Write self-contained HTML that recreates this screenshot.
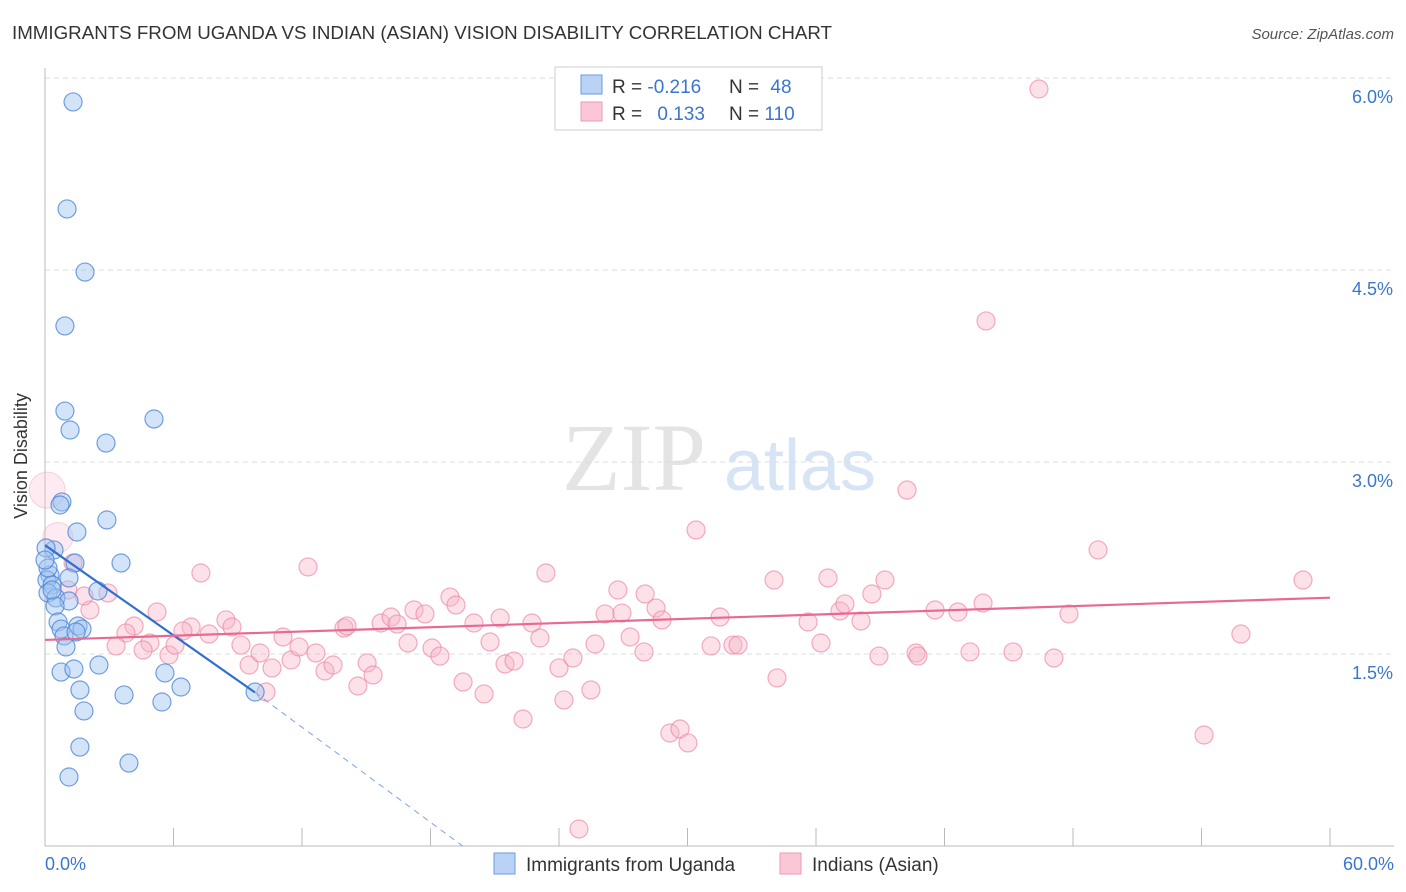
<!DOCTYPE html>
<html><head><meta charset="utf-8"><style>
body{margin:0;background:#fff;font-family:"Liberation Sans",sans-serif;}
svg{display:block}
</style></head><body>
<svg id="chart" width="1406" height="892" xmlns="http://www.w3.org/2000/svg">
<text x="12" y="39" font-size="18" fill="#333" textLength="820" lengthAdjust="spacingAndGlyphs">IMMIGRANTS FROM UGANDA VS INDIAN (ASIAN) VISION DISABILITY CORRELATION CHART</text>
<text x="1394" y="39" font-size="15" fill="#555" font-style="italic" text-anchor="end">Source: ZipAtlas.com</text>
<text x="634" y="490" font-size="96" fill="#e4e4e4" font-family="Liberation Serif,serif" text-anchor="middle">ZIP</text>
<text x="800" y="490" font-size="72" fill="#d6e4f5" text-anchor="middle">atlas</text>
<g id="grid"></g>
<line x1="45" y1="68" x2="45" y2="846" stroke="#bbb"/>
<line x1="45" y1="846" x2="1394" y2="846" stroke="#bbb"/>
<text x="27" y="456" font-size="18" fill="#333" text-anchor="middle" transform="rotate(-90 27 456)">Vision Disability</text>
<text x="45" y="870" font-size="18" fill="#3a76d0">0.0%</text>
<text x="1394" y="870" font-size="18" fill="#3a76d0" text-anchor="end">60.0%</text>
<g id="pts"></g>
<g id="lines"></g>
<g>
<rect x="555" y="67" width="267" height="63" fill="#fff" stroke="#ccc"/>
<rect x="581" y="75" width="21" height="19" fill="#b9d2f5" stroke="#6a9de0"/>
<rect x="581" y="102" width="21" height="19" fill="#fbc6d5" stroke="#ee9ab2"/>
<text x="612" y="93" font-size="19" fill="#333">R = <tspan fill="#3a76d0">-0.216</tspan></text>
<text x="729" y="93" font-size="19" fill="#333">N = <tspan fill="#3a76d0" dx="6">48</tspan></text>
<text x="612" y="120" font-size="19" fill="#333">R = <tspan fill="#3a76d0" dx="10">0.133</tspan></text>
<text x="729" y="120" font-size="19" fill="#333">N = <tspan fill="#3a76d0">110</tspan></text>
</g>
<g>
<rect x="494" y="853" width="21" height="21" fill="#b9d2f5" stroke="#6a9de0"/>
<text x="526" y="871" font-size="19" fill="#333">Immigrants from Uganda</text></g>
<g>
<rect x="780" y="853" width="21" height="21" fill="#fbc6d5" stroke="#ee9ab2"/>
<text x="812" y="871" font-size="19" fill="#333">Indians (Asian)</text></g>
</svg>
<script>
const yTicks=[1.5,3.0,4.5,6.0];
const xTicks=[0,6,12,18,24,30,36,42,48,54,60];
const bluePx=[[73,102],[67,209],[85,272],[65,326],[65,411],[70,430],[154,419],[106,443],[62,502],[107,520],[77,532],[54,550],[121,563],[75,563],[50,575],[69,578],[47,580],[52,585],[98,591],[48,593],[56,598],[69,601],[55,606],[58,622],[61,629],[78,626],[82,629],[64,636],[76,632],[66,647],[99,665],[61,672],[74,669],[165,673],[80,690],[181,687],[124,695],[162,702],[84,711],[255,692],[80,747],[129,763],[69,777],[46,548],[48,568],[52,590],[60,505],[45,560]];
const pinkPx=[[73,563],[68,590],[90,610],[84,596],[108,593],[201,573],[308,567],[157,612],[134,626],[126,633],[116,646],[150,643],[143,650],[169,655],[175,645],[191,627],[183,631],[209,634],[226,620],[232,627],[241,645],[249,665],[260,653],[266,692],[272,668],[283,637],[291,660],[299,647],[316,653],[325,671],[333,665],[344,628],[347,626],[358,686],[367,663],[373,675],[381,623],[391,617],[397,624],[408,643],[414,610],[425,614],[432,648],[440,656],[450,597],[456,605],[463,682],[474,623],[484,694],[490,642],[500,618],[505,664],[514,661],[523,719],[532,623],[540,638],[546,573],[559,668],[564,700],[573,658],[579,829],[591,690],[595,644],[605,614],[618,590],[622,613],[630,637],[644,652],[645,594],[656,608],[662,620],[670,733],[680,729],[688,743],[696,530],[711,646],[720,617],[733,645],[738,645],[774,580],[777,678],[808,622],[821,643],[828,578],[840,611],[845,604],[861,621],[872,594],[879,656],[885,580],[907,490],[916,653],[918,656],[935,610],[958,612],[970,652],[983,603],[986,321],[1013,652],[1039,89],[1054,658],[1069,614],[1098,550],[1204,735],[1241,634],[1303,580]];
const blueX=bluePx.map(p=>+((p[0]-45)/1285*60).toFixed(2));
const blueY=bluePx.map(p=>+((846-p[1])/128).toFixed(3));
const pinkX=pinkPx.map(p=>+((p[0]-45)/1285*60).toFixed(2));
const pinkY=pinkPx.map(p=>+((846-p[1])/128).toFixed(3));
const bigPinkX=[0.1,0.6];
const bigPinkY=[2.78,2.41];
const blueTrend=[[0,2.35],[9.8,1.2],[19.5,0]];
const pinkTrend=[[0,1.61],[60,1.94]];
const sx=v=>45+v/60*1285, sy=v=>846-v*128;
const NS='http://www.w3.org/2000/svg';
const g=document.getElementById('grid'),P=document.getElementById('pts'),L=document.getElementById('lines');
function mk(t,a,parent){const e=document.createElementNS(NS,t);for(const k in a)e.setAttribute(k,a[k]);parent.appendChild(e);return e;}
yTicks.forEach(t=>{
const l=mk('line',{x1:45,x2:1394,y1:sy(t),y2:sy(t),stroke:'#ddd','stroke-dasharray':'5,4'},g);


const tx=mk('text',{x:1393,y:sy(t)+25,'font-size':18,fill:'#3a76d0','text-anchor':'end'},g);
tx.textContent=t.toFixed(1)+'%';


});
xTicks.forEach(t=>{
const l=mk('line',{x1:sx(t),x2:sx(t),y1:828,y2:846,stroke:'#bbb'},g);


});
bigPinkX.forEach((x,i)=>{
const c=mk('circle',{cx:sx(x),cy:sy(bigPinkY[i]),r:i?15:18,fill:'rgba(248,190,208,0.3)',stroke:'rgba(236,150,175,0.4)','stroke-width':1},P);


});
pinkX.forEach((x,i)=>{
const c=mk('circle',{cx:sx(x),cy:sy(pinkY[i]),r:9,fill:'rgba(248,180,200,0.4)',stroke:'rgba(236,130,160,0.65)','stroke-width':1.2},P);


});
blueX.forEach((x,i)=>{
const c=mk('circle',{cx:sx(x),cy:sy(blueY[i]),r:9,fill:'rgba(160,195,240,0.45)',stroke:'rgba(70,130,215,0.75)','stroke-width':1.2},P);


});
let e=mk('line',{x1:sx(blueTrend[0][0]),y1:sy(blueTrend[0][1]),x2:sx(blueTrend[1][0]),y2:sy(blueTrend[1][1]),stroke:'#2f6fd0','stroke-width':2.2},L);


e=mk('line',{x1:sx(blueTrend[1][0]),y1:sy(blueTrend[1][1]),x2:sx(blueTrend[2][0]),y2:sy(blueTrend[2][1]),stroke:'#7aa3e0','stroke-width':1,'stroke-dasharray':'6,5'},L);


e=mk('line',{x1:sx(pinkTrend[0][0]),y1:sy(pinkTrend[0][1]),x2:sx(pinkTrend[1][0]),y2:sy(pinkTrend[1][1]),stroke:'#e86a93','stroke-width':2.2},L);


</script>
</body></html>
